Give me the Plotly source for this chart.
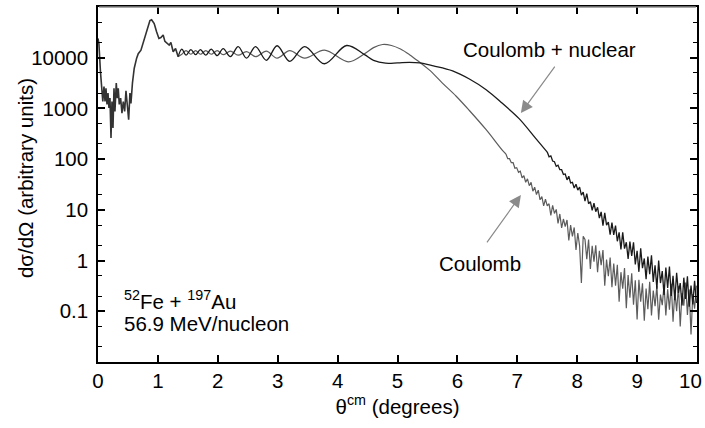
import numpy as np
import plotly.graph_objects as go

# ---------------- data ----------------
# common part of both curves (0 - 1.34 deg)
theta_common = [0.0, 0.015, 0.04, 0.06, 0.08, 0.10, 0.117, 0.133, 0.15, 0.167,
                0.183, 0.20, 0.217, 0.233, 0.25, 0.267, 0.283, 0.305, 0.322, 0.338,
                0.355, 0.378, 0.40, 0.422, 0.445, 0.467, 0.488, 0.512, 0.533, 0.55,
                0.575, 0.605, 0.645, 0.672, 0.717, 0.755, 0.81, 0.867, 0.895, 0.938,
                0.978, 1.017, 1.05, 1.088, 1.117, 1.155, 1.188, 1.217, 1.255, 1.295,
                1.338]
sigma_common = [24000, 19000, 5500, 2150, 1370, 2700, 1370, 2500, 1200, 2000,
                1020, 1600, 260, 1370, 410, 2500, 870, 3150, 1600, 2500,
                1200, 1600, 810, 1370, 870, 2230, 1200, 600, 2000, 1260,
                3160, 6200, 9800, 12000, 14100, 20400, 35000, 54000, 56000, 47000,
                32400, 24000, 25000, 28000, 21000, 19000, 17700, 20000, 13100, 15200,
                10500]

# Coulomb + nuclear, smooth part
theta_cn = [1.338, 1.40, 1.47, 1.55, 1.63, 1.71, 1.80, 1.89, 1.99, 2.09,
            2.21, 2.34, 2.48, 2.63, 2.81, 2.99, 3.20, 3.45, 3.78, 4.15,
            4.45, 4.60, 4.80, 5.00, 5.20, 5.37, 5.60, 5.92, 6.20, 6.48,
            6.75, 7.03, 7.30, 7.50]
sigma_cn = [10500, 14800, 11200, 14500, 11500, 14500, 11200, 14800, 11000, 15100,
            10500, 16600, 9800, 16600, 8900, 17200, 8500, 16600, 7600, 17400,
            11500, 8900, 7800, 7900, 8100, 7900, 6900, 5500, 3800, 2340,
            1260, 630, 263, 138]

# Coulomb + nuclear, noisy tail
theta_cn_tail = [7.50, 7.53, 7.56, 7.59, 7.62, 7.65, 7.68, 7.71, 7.74, 7.77,
                 7.80, 7.83, 7.86, 7.89, 7.92, 7.95, 7.98, 8.01, 8.04, 8.07,
                 8.10, 8.13, 8.16, 8.19, 8.22, 8.25, 8.28, 8.31, 8.34, 8.37,
                 8.40, 8.43, 8.46, 8.49, 8.52, 8.55, 8.58, 8.61, 8.64, 8.67,
                 8.70, 8.73, 8.76, 8.79, 8.82, 8.85, 8.88, 8.91, 8.94, 8.97,
                 9.00, 9.03, 9.06, 9.09, 9.12, 9.15, 9.18, 9.21, 9.24, 9.27,
                 9.30, 9.33, 9.36, 9.39, 9.42, 9.45, 9.48, 9.51, 9.54, 9.57,
                 9.60, 9.63, 9.66, 9.69, 9.72, 9.75, 9.78, 9.81, 9.84, 9.87,
                 9.90, 9.93, 9.96, 9.99]
sigma_cn_tail = [138, 111, 116, 92, 89, 72, 76, 62, 62, 50,
                 51, 39, 46, 34, 35, 27, 32, 24.5, 28, 19.5,
                 22.4, 14.8, 20.9, 13.2, 14.5, 9.8, 13.5, 9.2, 11.2, 6.9,
                 9.1, 4.9, 8.7, 5.0, 5.75, 3.24, 5.6, 3.2, 4.9, 2.4,
                 3.6, 1.66, 3.6, 1.72, 2.3, 1.08, 2.37, 1.23, 2.3, 0.84,
                 1.55, 0.60, 1.74, 0.71, 1.10, 0.43, 1.20, 0.54, 1.27, 0.38,
                 0.81, 0.28, 1.0, 0.36, 0.62, 0.21, 0.73, 0.29, 0.76, 0.20,
                 0.50, 0.166, 0.575, 0.23, 0.36, 0.13, 0.46, 0.176, 0.49, 0.123,
                 0.32, 0.136, 0.40, 0.146]

# Coulomb only, smooth part
theta_c = [1.338, 1.40, 1.47, 1.55, 1.63, 1.71, 1.80, 1.89, 1.99, 2.09,
           2.21, 2.34, 2.48, 2.63, 2.81, 2.99, 3.20, 3.45, 3.78, 4.18,
           4.45, 4.60, 4.75, 4.90, 5.05, 5.20, 5.35, 5.53, 5.75, 5.98,
           6.20, 6.48, 6.76, 6.81]
sigma_c = [10500, 11700, 13800, 11700, 13800, 11700, 13800, 11700, 13800, 11500,
           13500, 11200, 13200, 10500, 13500, 9800, 13800, 9800, 14100, 8300,
           12000, 15800, 18200, 17400, 14800, 11500, 8500, 5750, 3160, 1740,
           910, 380, 145, 126]

# Coulomb only, noisy tail
theta_c_tail = [6.81, 6.84, 6.87, 6.90, 6.93, 6.96, 6.99, 7.02, 7.05, 7.08,
                7.11, 7.14, 7.17, 7.20, 7.23, 7.26, 7.29, 7.32, 7.35, 7.38,
                7.41, 7.44, 7.47, 7.50, 7.53, 7.56, 7.59, 7.62, 7.65, 7.68,
                7.71, 7.74, 7.77, 7.80, 7.83, 7.86, 7.89, 7.92, 7.95, 7.98,
                8.01, 8.04, 8.07, 8.10, 8.13, 8.16, 8.19, 8.22, 8.25, 8.28,
                8.31, 8.34, 8.37, 8.40, 8.43, 8.46, 8.49, 8.52, 8.55, 8.58,
                8.61, 8.64, 8.67, 8.70, 8.73, 8.76, 8.79, 8.82, 8.85, 8.88,
                8.91, 8.94, 8.97, 9.00, 9.03, 9.06, 9.09, 9.12, 9.15, 9.18,
                9.21, 9.24, 9.27, 9.30, 9.33, 9.36, 9.39, 9.42, 9.45, 9.48,
                9.51, 9.54, 9.57, 9.60, 9.63, 9.66, 9.69, 9.72, 9.75, 9.78,
                9.81, 9.84, 9.87, 9.90, 9.93, 9.96, 9.99]
sigma_c_tail = [126, 102, 102, 85, 85, 66, 68, 55, 58, 43,
                47, 35, 41, 30, 35, 23.4, 28, 20, 24.5, 15.8,
                18.2, 12.0, 16.2, 12.0, 13.2, 7.8, 12.3, 8.5, 10.2, 5.4,
                8.3, 4.4, 6.6, 4.7, 6.3, 2.5, 5.0, 3.0, 4.5, 1.62,
                3.5, 1.95, 0.36, 3.0, 2.6, 1.07, 2.6, 0.68, 1.95, 0.95,
                2.0, 0.59, 1.55, 0.81, 1.62, 0.32, 1.05, 0.49, 1.15, 0.30,
                0.87, 0.32, 0.83, 0.155, 0.59, 0.28, 0.71, 0.115, 0.52, 0.186,
                0.56, 0.135, 0.41, 0.069, 0.42, 0.155, 0.355, 0.065, 0.28, 0.11,
                0.38, 0.083, 0.257, 0.126, 0.32, 0.068, 0.214, 0.132, 0.33, 0.083,
                0.27, 0.107, 0.35, 0.062, 0.245, 0.10, 0.32, 0.05, 0.23, 0.129,
                0.37, 0.085, 0.27, 0.035, 0.22, 0.112, 0.32]

x_ticks = [0, 1, 2, 3, 4, 5, 6, 7, 8, 9, 10]
x_ticktext = ["0", "1", "2", "3", "4", "5", "6", "7", "8", "9", ""]
x_last_label = "10"
y_ticks = [0.01, 0.1, 1, 10, 100, 1000, 10000, 100000]
y_ticktext = ["", "0.1", "1", "10", "100", "1000", "10000", ""]
y_minor = [0.02, 0.05, 0.2, 0.5, 2, 5, 20, 50, 200, 500, 2000, 5000, 20000, 50000]

# ---------------- figure ----------------
FONT = "Liberation Sans, Arial, Helvetica, sans-serif"
FS = 20.5
BLACK = "#1a1a1a"
GRAY = "#5c5c5c"

fig = go.Figure()
fig.add_trace(go.Scatter(x=theta_c, y=sigma_c, mode="lines",
                         line=dict(color=GRAY, width=1.2, shape="spline", smoothing=1)))
fig.add_trace(go.Scatter(x=theta_c_tail, y=sigma_c_tail, mode="lines",
                         line=dict(color=GRAY, width=1.2)))
fig.add_trace(go.Scatter(x=theta_cn, y=sigma_cn, mode="lines",
                         line=dict(color=BLACK, width=1.3, shape="spline", smoothing=1)))
fig.add_trace(go.Scatter(x=theta_cn_tail, y=sigma_cn_tail, mode="lines",
                         line=dict(color=BLACK, width=1.3)))
fig.add_trace(go.Scatter(x=theta_common, y=sigma_common, mode="lines",
                         line=dict(color="#333333", width=1.6)))

fig.update_layout(
    width=705, height=428,
    margin=dict(l=98, r=8, t=5, b=66),
    paper_bgcolor="white", plot_bgcolor="white",
    showlegend=False,
    font=dict(family=FONT, size=FS, color="black"),
)
fig.update_xaxes(
    range=[0, 10], tickvals=x_ticks, ticktext=x_ticktext,
    ticks="inside", ticklen=7, tickwidth=1.5,
    tickcolor="black", showline=True, linewidth=1.5, linecolor="black",
    mirror="ticks", showgrid=False, zeroline=False,
    tickfont=dict(size=FS, family=FONT, color="black"),
    title=dict(text="θ<sup>cm</sup> (degrees)", standoff=6,
               font=dict(size=FS, family=FONT, color="black")),
)
fig.update_yaxes(
    type="log", range=[-2, 5], tickvals=y_ticks, ticktext=y_ticktext,
    ticks="inside", ticklen=7, tickwidth=1.5, tickcolor="black",
    minor=dict(tickvals=y_minor, ticks="inside", ticklen=4, tickwidth=1.2, tickcolor="black"),
    showline=True, linewidth=1.5, linecolor="black",
    mirror="ticks", showgrid=False, zeroline=False,
    tickfont=dict(size=FS, family=FONT, color="black"),
    ticklabelstandoff=4,
)

# top frame line is lighter grey in the reference
fig.add_shape(type="line", xref="paper", yref="paper", x0=0.002, x1=0.998, y0=1, y1=1,
              line=dict(color="#8c8c8c", width=1.5), layer="above")

# y-axis title placed explicitly
fig.add_annotation(x=-0.122, y=0.518, xref="paper", yref="paper",
                   text="dσ/dΩ (arbitrary units)", textangle=-90, showarrow=False,
                   xanchor="center", yanchor="middle",
                   font=dict(size=FS, family=FONT, color="black"))
# last x tick label, shifted inside the page
fig.add_annotation(x=1.0, y=0, xref="paper", yref="paper", text=x_last_label,
                   showarrow=False, xanchor="right", yanchor="top",
                   xshift=7, yshift=-5,
                   font=dict(size=FS, family=FONT, color="black"))

ARROW = "#8a8a8a"
fig.add_annotation(x=7.06, y=float(np.log10(810)), xref="x", yref="y",
                   ax=35, ay=-48, text="", showarrow=True,
                   arrowhead=2, arrowsize=2.0, arrowwidth=1.2, arrowcolor=ARROW)
fig.add_annotation(x=7.06, y=float(np.log10(19.7)), xref="x", yref="y",
                   ax=-35, ay=49, text="", showarrow=True,
                   arrowhead=2, arrowsize=2.0, arrowwidth=1.2, arrowcolor=ARROW)
fig.add_annotation(x=7.53, y=4.157, xref="x", yref="y", text="Coulomb + nuclear",
                   showarrow=False, xanchor="center", yanchor="middle",
                   font=dict(size=FS, family=FONT, color="black"))
fig.add_annotation(x=6.38, y=-0.06, xref="x", yref="y", text="Coulomb",
                   showarrow=False, xanchor="center", yanchor="middle",
                   font=dict(size=FS, family=FONT, color="black"))
fig.add_annotation(x=0.4, y=-0.784, xref="x", yref="y",
                   text="<sup>52</sup>Fe + <sup>197</sup>Au",
                   showarrow=False, xanchor="left", yanchor="middle",
                   font=dict(size=FS, family=FONT, color="black"))
fig.add_annotation(x=0.4, y=-1.235, xref="x", yref="y", text="56.9 MeV/nucleon",
                   showarrow=False, xanchor="left", yanchor="middle",
                   font=dict(size=FS, family=FONT, color="black"))

fig.write_html("out.html")
